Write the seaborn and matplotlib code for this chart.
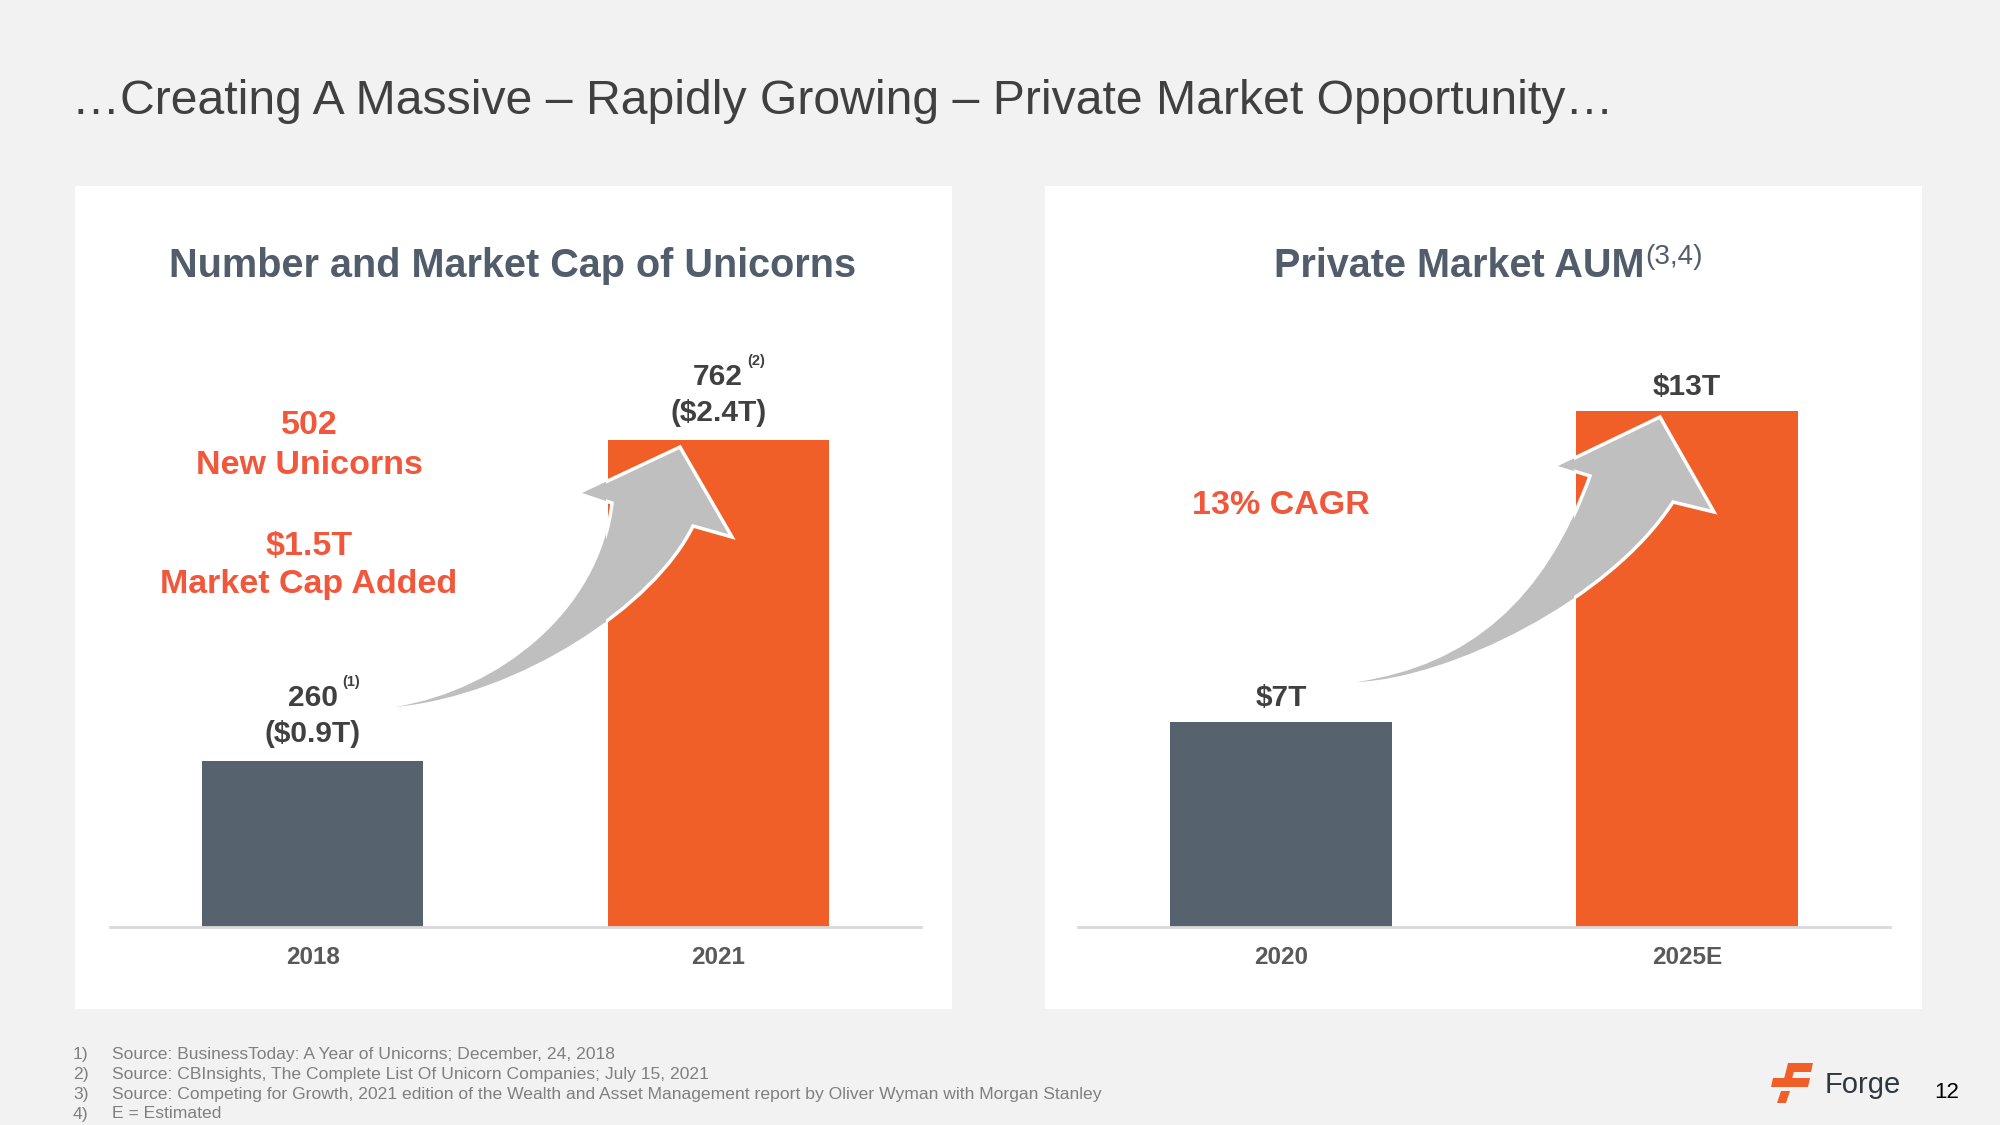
import matplotlib
matplotlib.use("Agg")
import matplotlib.pyplot as plt
import seaborn as sns
import pandas as pd
from matplotlib.patches import Rectangle, PathPatch, Polygon
from matplotlib.path import Path
from matplotlib.transforms import Affine2D, IdentityTransform

# ---- data ----
UNICORN_YEARS = ["2018", "2021"]
UNICORN_COUNTS = [260, 762]
UNICORN_CAPS = ["($0.9T)", "($2.4T)"]
UNICORN_NOTES = ["(1)", "(2)"]

AUM_YEARS = ["2020", "2025E"]
AUM_VALUES = [7, 13]
AUM_LABELS = ["$7T", "$13T"]

FOOTNOTES = [
    "Source: BusinessToday: A Year of Unicorns; December, 24, 2018",
    "Source: CBInsights, The Complete List Of Unicorn Companies; July 15, 2021",
    "Source: Competing for Growth, 2021 edition of the Wealth and Asset Management report by Oliver Wyman with Morgan Stanley",
    "E = Estimated",
]

# colours
SLATE = "#56636f"
ORANGE = "#ef5f27"
RED = "#f1573b"
DARK = "#404040"
TICK = "#595959"
HEAD = "#515d6a"
BG = "#f2f2f2"
ARROW = "#bfbfbf"

sns.set_style("white")
plt.rcParams["font.family"] = ["Liberation Sans", "DejaVu Sans"]

W, H = 2000, 1125
fig = plt.figure(figsize=(20, 11.25), dpi=100, facecolor=BG)
# pixel coords, origin top-left (used for slide furniture only)
px = Affine2D().scale(1 / W, -1 / H).translate(0, 1) + fig.transFigure


def ftext(x, y, s, **kw):
    fig.text(x, y, s, transform=px, **kw)


# slide title
ftext(72, 102, "\u2026Creating A Massive \u2013 Rapidly Growing \u2013 Private Market Opportunity\u2026",
      fontsize=34.7, color=DARK, va="center", ha="left")

# white cards
for x0 in (75, 1045):
    fig.add_artist(Rectangle((x0, 186), 877, 823, transform=px, facecolor="white",
                             edgecolor="none", zorder=-1))


def make_ax(x0, x1):
    ax = fig.add_axes([x0 / W, (H - 927) / H, (x1 - x0) / W, (927 - 250) / H])
    ax.set_facecolor("none")
    for s in ("top", "left", "right"):
        ax.spines[s].set_visible(False)
    ax.spines["bottom"].set_color("#d9d9d9")
    ax.spines["bottom"].set_linewidth(2)
    ax.set_yticks([])
    ax.tick_params(axis="x", length=0, pad=14, labelsize=17.5, labelcolor=TICK)
    return ax


def finish_ax(ax, ylim):
    ax.set_ylim(*ylim)
    ax.set_xlim(-0.5, 1.5)
    ax.set_xlabel("")
    ax.set_ylabel("")
    for lab in ax.get_xticklabels():
        lab.set_fontweight("bold")


# ---- left chart: unicorns ----
ax1 = make_ax(110, 921)
df1 = pd.DataFrame({"year": UNICORN_YEARS, "count": UNICORN_COUNTS})
sns.barplot(data=df1, x="year", y="count", hue="year", palette=[SLATE, ORANGE],
            width=0.545, saturation=1, linewidth=0, legend=False, ax=ax1)
finish_ax(ax1, (0, 1059))

for i, (n, cap, note) in enumerate(zip(UNICORN_COUNTS, UNICORN_CAPS, UNICORN_NOTES)):
    ax1.annotate(str(n), (i, n), xytext=(0, 63), textcoords="offset pixels",
                 ha="center", va="center", fontsize=21.5, fontweight="bold", color=DARK)
    ax1.annotate(cap, (i, n), xytext=(0, 27), textcoords="offset pixels",
                 ha="center", va="center", fontsize=21.5, fontweight="bold", color=DARK)
    ax1.annotate(note, (i, n), xytext=(38, 79), textcoords="offset pixels",
                 ha="center", va="center", fontsize=10.5, fontweight="bold", color=DARK)

ftext(513, 266, "Number and Market Cap of Unicorns", fontsize=28.5, fontweight="bold",
      color=HEAD, ha="center", va="center")
for y, s in [(426, "502"), (465, "New Unicorns"), (546, "$1.5T"), (585, "Market Cap Added")]:
    ftext(309, y, s, fontsize=24.5, fontweight="bold", color=RED, ha="center", va="center")

# ---- right chart: private market AUM ----
ax2 = make_ax(1078, 1890)
df2 = pd.DataFrame({"year": AUM_YEARS, "aum": AUM_VALUES})
sns.barplot(data=df2, x="year", y="aum", hue="year", palette=[SLATE, ORANGE],
            width=0.545, saturation=1, linewidth=0, legend=False, ax=ax2)
finish_ax(ax2, (3.045, 16.11))

for i, (v, s) in enumerate(zip(AUM_VALUES, AUM_LABELS)):
    ax2.annotate(s, (i, v), xytext=(0, 24), textcoords="offset pixels",
                 ha="center", va="center", fontsize=21.5, fontweight="bold", color=DARK)

ftext(1644, 266, "Private Market AUM", fontsize=28.5, fontweight="bold",
      color=HEAD, ha="right", va="center")
ftext(1645, 244, "(3,4)", fontsize=20, color=HEAD, ha="left", va="top")
ftext(1281, 506, "13% CAGR", fontsize=24.5, fontweight="bold", color=RED,
      ha="center", va="center")


# ---- growth swooshes ----
# white outline only shows where the arrow sits on the orange bar, so a
# plain fill is laid back on top everywhere left of that bar
def swoosh(ax, tail, oc1, oc2, notch_l, corner_l, tip, corner_r, notch_r, ic1, ic2):
    verts = [tail, oc1, oc2, notch_l, corner_l, tip, corner_r, notch_r, ic1, ic2, tail, tail]
    codes = [Path.MOVETO, Path.CURVE4, Path.CURVE4, Path.CURVE4, Path.LINETO, Path.LINETO,
             Path.LINETO, Path.LINETO, Path.CURVE4, Path.CURVE4, Path.CURVE4, Path.CLOSEPOLY]
    path = Path(verts, codes)
    fig.add_artist(PathPatch(path, transform=px, facecolor=ARROW,
                             edgecolor="white", linewidth=2.5, joinstyle="miter", zorder=5))
    bar = ax.patches[1]
    bar_left = ax.transData.transform((bar.get_x(), 0))[0]
    clip = Rectangle((0, 0), bar_left - 2, fig.bbox.height, transform=IdentityTransform())
    plain = PathPatch(path, transform=px, facecolor=ARROW, edgecolor="none", zorder=6)
    plain.set_clip_path(clip)
    fig.add_artist(plain)


swoosh(ax1, (395, 707), (500, 690), (600, 610), (612, 503), (582, 493), (680, 447),
       (732, 537), (693, 526), (655, 605), (520, 695))
swoosh(ax2, (1357, 682), (1470, 665), (1545, 600), (1590, 476), (1558, 466), (1660, 417),
       (1714, 512), (1673, 502), (1610, 600), (1450, 678))

# ---- footnotes ----
for k, (y, s) in enumerate(zip([1054, 1074, 1094, 1114], FOOTNOTES)):
    ftext(73, y, f"{k + 1})", fontsize=12.6, color="#7f7f7f", ha="left", va="center")
    ftext(112, y, s, fontsize=12.6, color="#7f7f7f", ha="left", va="center")

# ---- logo + page number ----
for poly in [
    [(1790, 1063), (1813, 1063), (1811, 1072), (1788, 1072)],
    [(1788, 1063), (1796, 1063), (1792, 1079), (1784, 1079)],
    [(1773, 1078), (1810, 1078), (1808, 1087), (1771, 1087)],
    [(1781, 1091), (1790, 1091), (1786, 1103), (1777, 1103)],
]:
    fig.add_artist(Polygon(poly, closed=True, transform=px, facecolor=ORANGE, edgecolor="none"))
ftext(1825, 1093, "Forge", fontsize=21, color="#2f3840", ha="left", va="baseline")
ftext(1947, 1092, "12", fontsize=16, color="black", ha="center", va="center")

fig.savefig("out.png", dpi=100, facecolor=BG)
